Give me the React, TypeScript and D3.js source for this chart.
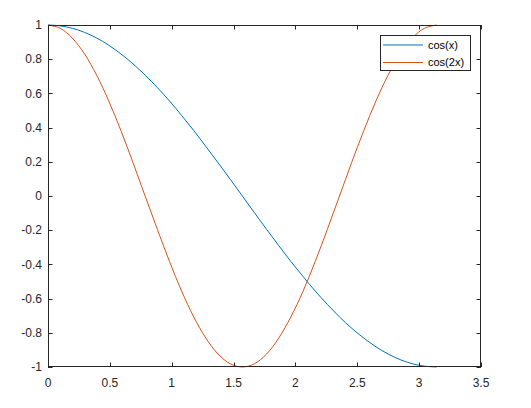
import { useRef, useEffect } from "react";
import * as d3 from "d3";

// sample points
const xs = [
  0, 0.098, 0.196, 0.295, 0.393, 0.491, 0.589, 0.687, 0.785, 0.884, 0.982, 1.08, 1.178, 1.276, 1.374, 1.473,
  1.571, 1.669, 1.767, 1.865, 1.963, 2.062, 2.16, 2.258, 2.356, 2.454, 2.553, 2.651, 2.749, 2.847, 2.945, 3.043, 3.142,
];
const cosX = [
  1, 0.995, 0.981, 0.957, 0.924, 0.882, 0.831, 0.773, 0.707, 0.634, 0.556, 0.471, 0.383, 0.29, 0.195, 0.098,
  0, -0.098, -0.195, -0.29, -0.383, -0.471, -0.556, -0.634, -0.707, -0.773, -0.831, -0.882, -0.924, -0.957, -0.981, -0.995, -1,
];
const cos2X = [
  1, 0.981, 0.924, 0.831, 0.707, 0.556, 0.383, 0.195, 0, -0.195, -0.383, -0.556, -0.707, -0.831, -0.924, -0.981,
  -1, -0.981, -0.924, -0.831, -0.707, -0.556, -0.383, -0.195, 0, 0.195, 0.383, 0.556, 0.707, 0.831, 0.924, 0.981, 1,
];
const seriesNames = ["cos(x)", "cos(2x)"];
const seriesColors = ["#0072BD", "#D95319"];
const xTicks = [0, 0.5, 1, 1.5, 2, 2.5, 3, 3.5];
const yTicks = [-1, -0.8, -0.6, -0.4, -0.2, 0, 0.2, 0.4, 0.6, 0.8, 1];

export default function App() {
  const ref = useRef<SVGSVGElement>(null);

  useEffect(() => {
    const W = 531, H = 408;
    const left = 48, right = 481, top = 25, bottom = 367;
    const svg = d3.select(ref.current);
    svg.selectAll("*").remove();

    const x = d3.scaleLinear().domain([0, 3.5]).range([left, right]);
    const y = d3.scaleLinear().domain([-1, 1]).range([bottom, top]);

    svg.append("rect").attr("width", W).attr("height", H).attr("fill", "#fff");

    const font = "'Liberation Sans', Arial, sans-serif";
    const axisColor = "#262626";

    // series
    const series = [cosX, cos2X];
    series.forEach((vals, i) => {
      const line = d3
        .line<number>()
        .x((_, j) => x(xs[j]))
        .y((d) => y(d))
        .curve(d3.curveCatmullRom);
      svg.append("path").attr("d", line(vals)).attr("fill", "none").attr("stroke", seriesColors[i]).attr("stroke-width", 1);
    });

    // frame and ticks
    const g = svg.append("g").attr("stroke", axisColor).attr("stroke-width", 1).attr("fill", "none");
    g.append("rect").attr("x", left + 0.5).attr("y", top + 0.5).attr("width", right - left - 1).attr("height", bottom - top - 1);
    const tl = 4.5;
    xTicks.forEach((t) => {
      const px = Math.round(x(t)) + 0.5;
      g.append("line").attr("x1", px).attr("x2", px).attr("y1", bottom).attr("y2", bottom - tl);
      g.append("line").attr("x1", px).attr("x2", px).attr("y1", top).attr("y2", top + tl);
    });
    yTicks.forEach((t) => {
      const py = Math.round(y(t)) + 0.5;
      g.append("line").attr("x1", left).attr("x2", left + tl).attr("y1", py).attr("y2", py);
      g.append("line").attr("x1", right).attr("x2", right - tl).attr("y1", py).attr("y2", py);
    });

    // tick labels
    xTicks.forEach((t) => {
      svg.append("text").attr("x", x(t)).attr("y", bottom + 20).attr("text-anchor", "middle")
        .attr("font-family", font).attr("font-size", 12).attr("fill", axisColor).text(String(t));
    });
    yTicks.forEach((t) => {
      svg.append("text").attr("x", left - 6).attr("y", y(t)).attr("dy", "0.35em").attr("text-anchor", "end")
        .attr("font-family", font).attr("font-size", 12).attr("fill", axisColor).text(String(t));
    });

    // legend
    const lg = svg.append("g");
    lg.append("rect").attr("x", 380.5).attr("y", 35.5).attr("width", 90).attr("height", 35)
      .attr("fill", "#fff").attr("stroke", axisColor).attr("stroke-width", 1);
    seriesNames.forEach((name, i) => {
      const ly = 45 + i * 17.5;
      lg.append("line").attr("x1", 383).attr("x2", 423).attr("y1", ly).attr("y2", ly)
        .attr("stroke", seriesColors[i]).attr("stroke-width", 1);
      lg.append("text").attr("x", 428).attr("y", ly).attr("dy", "0.35em")
        .attr("font-family", font).attr("font-size", 11).attr("fill", "#000").text(name);
    });
  }, []);

  return <svg ref={ref} width={531} height={408} style={{ position: "absolute", left: 0, top: 0 }} />;
}
